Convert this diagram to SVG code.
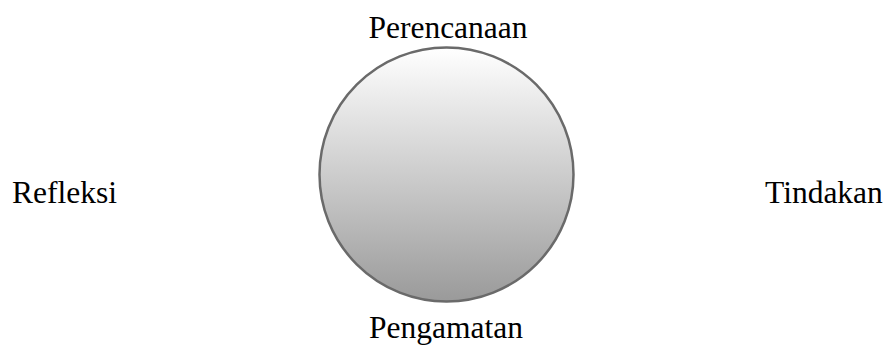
<svg xmlns="http://www.w3.org/2000/svg" width="886" height="347" viewBox="0 0 886 347">
<style>
.lbl{font-family:"Liberation Serif","Times New Roman",serif;font-size:31.5px;fill:#000}
</style>
<defs>
<linearGradient id="g" x1="0" y1="0" x2="0" y2="1">
<stop offset="0" stop-color="#ffffff"/>
<stop offset="1" stop-color="#9a9a9a"/>
</linearGradient>
</defs>
<rect width="886" height="347" fill="#ffffff"/>
<g id="cycle">
<circle cx="446.5" cy="174.5" r="127" fill="url(#g)" stroke="#6a6a6a" stroke-width="2.5"/>
</g>
<g id="perencanaan"><text class="lbl" x="448" y="38" text-anchor="middle">Perencanaan</text></g>
<g id="tindakan"><text class="lbl" x="765" y="203">Tindakan</text></g>
<g id="pengamatan"><text class="lbl" x="446" y="338" text-anchor="middle">Pengamatan</text></g>
<g id="refleksi"><text class="lbl" x="12" y="203">Refleksi</text></g>
<g id="connectors"></g>
</svg>
